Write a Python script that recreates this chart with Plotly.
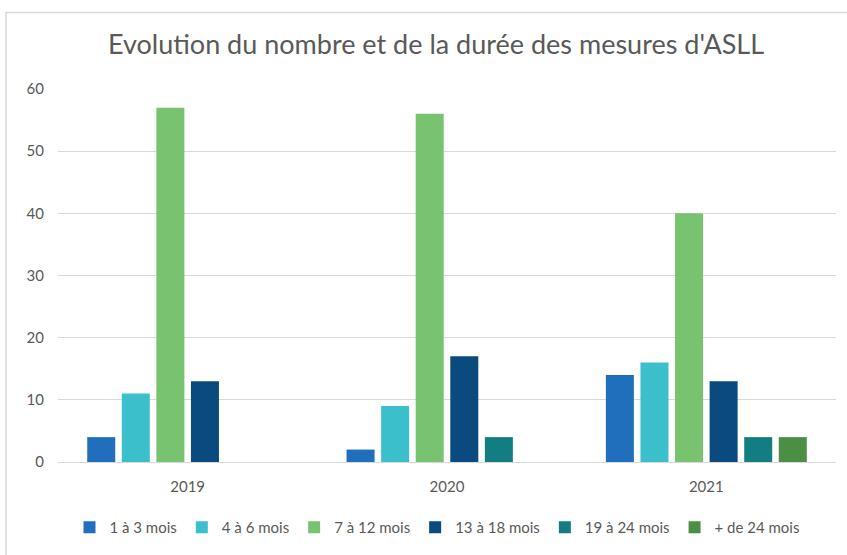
import plotly.graph_objects as go

years = ["2019", "2020", "2021"]
series_names = ["1 à 3 mois", "4 à 6 mois", "7 à 12 mois", "13 à 18 mois", "19 à 24 mois", "+ de 24 mois"]
v_1_3 = [4, 2, 14]
v_4_6 = [11, 9, 16]
v_7_12 = [57, 56, 40]
v_13_18 = [13, 17, 13]
v_19_24 = [None, 4, 4]
v_24p = [None, None, 4]
series_values = [v_1_3, v_4_6, v_7_12, v_13_18, v_19_24, v_24p]
colors = ["#1F6FBD", "#3BBFCB", "#77C36F", "#0B4A7E", "#127E82", "#4A8F43"]
y_ticks = [0, 10, 20, 30, 40, 50, 60]

fig = go.Figure()
for name, vals, col in zip(series_names, series_values, colors):
    fig.add_trace(go.Bar(x=years, y=vals, name=name, marker_color=col, marker_line_width=0))

font_family = "Lato, Liberation Sans, Arial"
fig.update_layout(
    width=847, height=555,
    paper_bgcolor="white", plot_bgcolor="white",
    margin=dict(l=58, r=11, t=89, b=90),
    barmode="group", bargap=0.2, bargroupgap=0.19,
    title=dict(text="Evolution du nombre et de la durée des mesures d'ASLL",
               x=436 / 847, xanchor="center", y=1 - 45 / 555, yanchor="middle",
               font=dict(family=font_family, size=27, color="#595959")),
    font=dict(family=font_family, size=15, color="#595959"),
    xaxis=dict(showgrid=False, showline=False, ticks="", ticklabelstandoff=14,
               tickfont=dict(size=15, color="#595959")),
    yaxis=dict(range=[0, 60], tickvals=y_ticks, showgrid=True, gridcolor="#D9D9D9", gridwidth=1,
               zeroline=True, zerolinecolor="#D9D9D9", zerolinewidth=1,
               ticks="", ticklabelstandoff=13, tickfont=dict(size=15, color="#595959")),
    legend=dict(orientation="h", x=(437 - 58) / 778, xanchor="center", y=-0.1755, yanchor="middle",
                font=dict(size=15, color="#595959"), itemwidth=30, traceorder="normal"),
    showlegend=True,
)
fig.add_shape(type="rect", xref="paper", yref="paper",
              x0=-52 / 778, x1=(850 - 58) / 778, y0=(465 - 560) / 376, y1=(465 - 12) / 376,
              line=dict(color="#D9D9D9", width=1.5), layer="below")
fig.write_html("out.html", config={"displayModeBar": False},
               post_script="document.body.style.margin='0';")
